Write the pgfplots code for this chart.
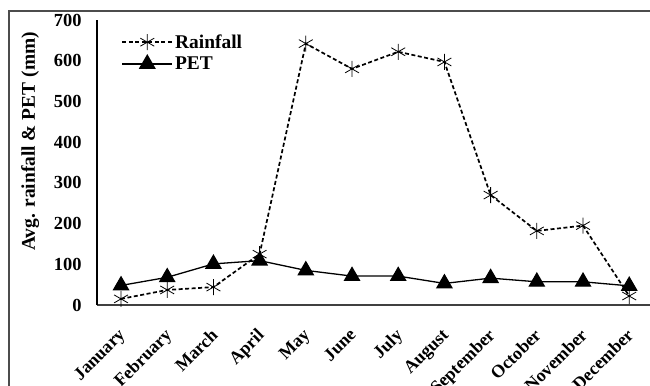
\documentclass[border=0pt]{standalone}
\usepackage{fontspec}
\setmainfont{Liberation Serif}
\usepackage{pgfplots}
\pgfplotsset{compat=1.18}

\pgfplotstableread{
x rain pet
0 15 48
1 37 68
2 44 101
3 125 109
4 642 85
5 580 71
6 622 71
7 597 53
8 270 66
9 182 57
10 195 57
11 22 47
}\datatable

\begin{document}
\begin{tikzpicture}[x=1bp,y=1bp]
\useasboundingbox (0,0) rectangle (650,385);
\begin{axis}[
  at={(97bp,80bp)}, anchor=south west,
  scale only axis, width=553bp, height=285bp,
  xmin=-0.52, xmax=11.45, ymin=0, ymax=700,
  axis x line*=bottom, axis y line*=left,
  x axis line style={-, line width=1.3bp, black!75},
  y axis line style={-, line width=1.1bp, black},
  ytick={0,100,...,700},
  xtick={0,...,11},
  xticklabels={January,February,March,April,May,June,July,August,September,October,November,December},
  major tick length=0pt,
  /pgf/number format/assume math mode=true,
  tick label style={font=\fontsize{18.5}{19}\selectfont\bfseries},
  yticklabel style={xshift=-12bp},
  xticklabel style={font=\fontsize{18}{18}\selectfont\bfseries, rotate=45, anchor=north east, xshift=-15bp, yshift=-10bp},
  ylabel={Avg. rainfall \& PET (mm)},
  ylabel style={font=\fontsize{19.5}{20}\selectfont\bfseries, at={(axis description cs:-0.121,0.574)}, anchor=center},
  legend style={draw=none, fill=none, at={(axis description cs:0.042,0.96)}, anchor=north west,
    font=\fontsize{19.5}{20}\selectfont\bfseries, row sep=3bp, inner sep=1bp},
  legend cell align=left,
  legend image code/.code={\draw[mark repeat=2, mark phase=2, #1] plot coordinates {(0bp,0bp) (25bp,0bp) (50bp,0bp)};},
  clip=false,
]
\addplot[black, line width=1.7bp, dash pattern=on 4bp off 2.5bp, mark=asterisk, mark size=8bp,
  mark options={solid, line width=0.8bp}] table[x=x, y=rain] {\datatable};
\addlegendentry{Rainfall}
\addplot[black, line width=1.3bp, mark=triangle*, mark size=8.5bp, mark options={solid}] table[x=x, y=pet] {\datatable};
\addlegendentry{PET}
\end{axis}
\draw[line width=1.2bp, black!70] (9,-10) |- (660,374);
\end{tikzpicture}
\end{document}
